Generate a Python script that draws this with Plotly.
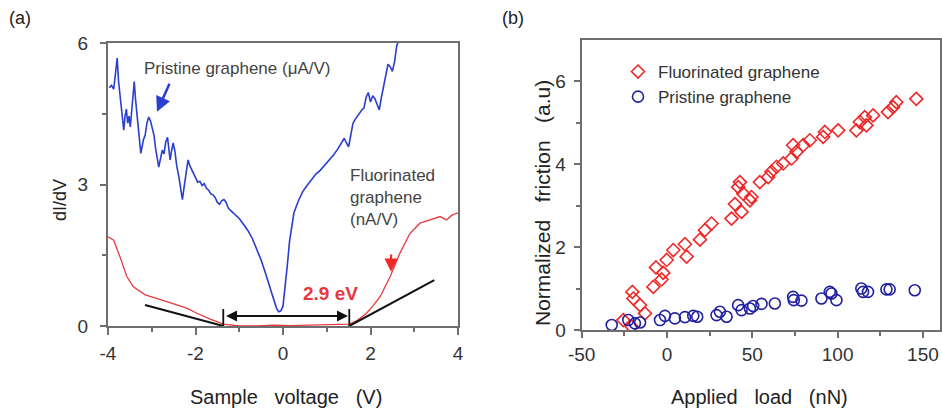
import plotly.graph_objects as go

# ---------------- Panel (a) data ----------------
pristine_v = [-3.97, -3.92, -3.87, -3.82, -3.79, -3.76, -3.73, -3.70, -3.67, -3.64, -3.61, -3.58, -3.55,
              -3.52, -3.49, -3.46, -3.43, -3.40, -3.37, -3.34, -3.31, -3.28, -3.25, -3.22, -3.19, -3.15,
              -3.11, -3.07, -3.03, -2.99, -2.95, -2.91, -2.87, -2.84, -2.80, -2.76, -2.72, -2.68, -2.64,
              -2.61, -2.58, -2.55, -2.51, -2.47, -2.43, -2.38, -2.34, -2.30, -2.26, -2.21, -2.17, -2.13,
              -2.08, -2.04, -2.00, -1.95, -1.90, -1.85, -1.80, -1.75, -1.70, -1.65, -1.60, -1.55, -1.50,
              -1.45, -1.40, -1.35, -1.30, -1.25, -1.20, -1.10, -1.00, -0.90, -0.80, -0.70, -0.60, -0.50,
              -0.40, -0.30, -0.22, -0.15, -0.10, -0.05, 0.00, 0.05, 0.10, 0.15, 0.20, 0.25, 0.35, 0.45,
              0.55, 0.65, 0.75, 0.85, 0.95, 1.05, 1.15, 1.25, 1.35, 1.40, 1.45, 1.50, 1.55, 1.60, 1.65,
              1.70, 1.75, 1.80, 1.85, 1.90, 1.95, 2.00, 2.05, 2.10, 2.15, 2.20, 2.25, 2.30, 2.35, 2.40,
              2.45, 2.50, 2.55, 2.60, 2.65, 2.70]
pristine_didv = [5.05, 5.10, 5.02, 5.40, 5.68, 5.20, 4.90, 4.62, 4.40, 4.15, 4.45, 4.60, 4.30,
                 4.45, 4.22, 4.60, 4.95, 5.18, 4.80, 4.50, 4.10, 3.85, 3.66, 3.80, 3.95, 4.05,
                 4.30, 4.43, 4.35, 4.20, 4.05, 3.75, 3.55, 3.37, 3.55, 3.73, 3.65, 3.90, 4.00,
                 3.75, 3.52, 3.70, 3.88, 3.70, 3.40, 3.16, 2.90, 2.68, 2.95, 3.30, 3.52, 3.40,
                 3.30, 3.22, 3.15, 3.05, 3.07, 2.98, 3.02, 2.92, 2.88, 2.80, 2.78, 2.72, 2.62,
                 2.58, 2.66, 2.68, 2.62, 2.50, 2.45, 2.36, 2.28, 2.15, 2.02, 1.85, 1.62, 1.40,
                 1.12, 0.82, 0.55, 0.38, 0.30, 0.32, 0.42, 0.80, 1.30, 1.80, 2.15, 2.40, 2.65, 2.85,
                 2.98, 3.10, 3.22, 3.30, 3.40, 3.50, 3.62, 3.75, 3.92, 3.98, 3.88, 3.80, 4.05, 4.30, 4.38,
                 4.45, 4.50, 4.58, 4.62, 4.85, 4.95, 4.75, 4.88, 4.82, 4.70, 4.58, 4.85, 5.10, 5.30, 5.55,
                 5.50, 5.40, 5.60, 5.95, 6.05, 6.10]

fluor_v = [-4.00, -3.87, -3.72, -3.57, -3.42, -3.15, -2.80, -2.51, -2.20, -1.97, -1.65, -1.36, -1.00,
           -0.60, -0.20, 0.16, 0.60, 1.00, 1.30, 1.515, 1.70, 1.91, 2.05, 2.22, 2.45, 2.67, 2.90, 3.13,
           3.36, 3.59, 3.74, 3.86, 3.97, 4.00]
fluor_didv = [1.89, 1.82, 1.45, 1.05, 0.83, 0.66, 0.56, 0.48, 0.38, 0.27, 0.14, 0.04, 0.00,
              0.00, 0.02, 0.01, 0.02, 0.03, 0.03, 0.04, 0.12, 0.27, 0.42, 0.62, 1.05, 1.54, 1.96, 2.18,
              2.25, 2.32, 2.25, 2.35, 2.39, 2.40]

tangent_left_v = [-3.154, -1.365]
tangent_left_y = [0.445, 0.0]
tangent_right_v = [1.515, 3.458]
tangent_right_y = [0.0, 0.975]
gap_edges_v = [-1.365, 1.515]
gap_bar_y = [0.0, 0.36]
gap_arrow_y = 0.21

volt_ticks = [-4, -2, 0, 2, 4]
volt_ticktext = ["-4", "-2", "0", "2", "4"]
didv_ticks = [0, 3, 6]

# ---------------- Panel (b) data ----------------
fluor_load = [-25.6, -20.7, -20.3, -19.7, -15.8, -12.9, -8.0, -6.5, -3.2, -2.2, -0.2, 3.7, 10.5, 11.5,
              19.3, 22.2, 26.1, 37.8, 39.8, 41.7, 42.7, 43.7, 44.7, 48.6, 49.5, 54.4, 59.3, 61.2, 64.2,
              68.1, 73.0, 73.9, 75.9, 79.8, 83.7, 91.5, 92.5, 100.3, 111.0, 113.0, 115.9, 116.9, 120.8,
              129.5, 132.5, 134.4, 146.1]
fluor_fric = [0.24, 0.08, 0.92, 0.76, 0.60, 0.40, 1.04, 1.51, 1.22, 1.38, 1.69, 1.93, 2.07, 1.77,
              2.18, 2.41, 2.57, 2.69, 3.04, 3.45, 3.57, 2.85, 3.29, 3.13, 3.21, 3.57, 3.69, 3.82, 3.94,
              4.02, 4.14, 4.46, 4.30, 4.46, 4.58, 4.66, 4.78, 4.82, 4.82, 5.02, 5.14, 4.94, 5.18,
              5.26, 5.38, 5.50, 5.58]
prist_load = [-32.4, -22.7, -18.8, -15.8, -4.1, -1.2, 4.6, 10.5, 15.4, 17.7, 29.0, 31.0, 34.9, 41.7,
              43.7, 48.6, 50.5, 55.4, 63.2, 73.9, 74.3, 78.8, 90.5, 95.4, 96.4, 99.3, 113.9, 114.9,
              117.8, 128.6, 130.5, 145.2]
prist_fric = [0.12, 0.24, 0.16, 0.18, 0.24, 0.34, 0.28, 0.31, 0.34, 0.32, 0.36, 0.44, 0.32, 0.60,
              0.48, 0.52, 0.58, 0.63, 0.64, 0.80, 0.72, 0.71, 0.76, 0.92, 0.88, 0.72, 1.00, 0.92,
              0.92, 0.98, 0.98, 0.96]

load_ticks = [-50, 0, 50, 100, 150]
load_ticktext = ["-50", "0", "50", "100", "150"]
fric_ticks = [0, 2, 4, 6]

FONT = "Liberation Sans, Arial, sans-serif"
AX = "#6e6e6e"
NB = "\u00a0"

fig = go.Figure()

# Panel (a)
fig.add_trace(go.Scatter(x=fluor_v, y=fluor_didv, mode="lines", line=dict(color="#e8383c", width=1.3),
                         showlegend=False, xaxis="x", yaxis="y"))
fig.add_trace(go.Scatter(x=pristine_v, y=pristine_didv, mode="lines", line=dict(color="#2a3ed0", width=1.6),
                         showlegend=False, xaxis="x", yaxis="y"))
fig.add_trace(go.Scatter(x=tangent_left_v, y=tangent_left_y, mode="lines", line=dict(color="#111", width=2),
                         showlegend=False, xaxis="x", yaxis="y"))
fig.add_trace(go.Scatter(x=tangent_right_v, y=tangent_right_y, mode="lines", line=dict(color="#111", width=2),
                         showlegend=False, xaxis="x", yaxis="y"))
for v in gap_edges_v:
    fig.add_trace(go.Scatter(x=[v, v], y=gap_bar_y, mode="lines", line=dict(color="#111", width=1.8),
                             showlegend=False, xaxis="x", yaxis="y"))

# Panel (b)
fig.add_trace(go.Scatter(x=fluor_load, y=fluor_fric, mode="markers", name="Fluorinated graphene",
                         marker=dict(symbol="diamond-open", size=10, color="#f02828", line=dict(width=1.6)),
                         xaxis="x2", yaxis="y2"))
fig.add_trace(go.Scatter(x=prist_load, y=prist_fric, mode="markers", name="Pristine graphene",
                         marker=dict(symbol="circle-open", size=11, color="#2020a0", line=dict(width=1.6)),
                         xaxis="x2", yaxis="y2"))

axis_common = dict(showline=True, mirror=True, linecolor=AX, linewidth=2, showgrid=False, zeroline=False,
                   ticks="outside", tickcolor=AX, tickwidth=1.5, automargin=False,
                   tickfont=dict(family=FONT, size=19, color="#333"))

fig.update_layout(
    width=942, height=409, margin=dict(l=0, r=0, t=0, b=0, autoexpand=False),
    paper_bgcolor="white", plot_bgcolor="white",
    font=dict(family=FONT, color="#222"),
    xaxis=dict(domain=[108/942, 458/942], range=[-4, 4], tickvals=volt_ticks, ticktext=volt_ticktext, ticklen=7,
               ticklabelstandoff=2, anchor="y",
               minor=dict(tickvals=[-3, -1, 1, 3], ticklen=4, ticks="outside", tickcolor=AX), **axis_common),
    yaxis=dict(domain=[83/409, 366/409], range=[0, 6], tickvals=didv_ticks, ticklen=6,
               ticklabelstandoff=8, anchor="x",
               minor=dict(tickvals=[1.5, 4.5], ticklen=4, ticks="outside", tickcolor=AX), **axis_common),
    xaxis2=dict(domain=[581.7/942, 940/942], range=[-50, 160], tickvals=load_ticks, ticktext=load_ticktext,
                ticklen=6, ticklabelstandoff=0, anchor="y2",
                minor=dict(tickvals=[-25, 25, 75, 125], ticklen=4, ticks="outside", tickcolor=AX), **axis_common),
    yaxis2=dict(domain=[79/409, 369/409], range=[0, 7], tickvals=fric_ticks, ticklen=6,
                ticklabelstandoff=4, anchor="x2",
                minor=dict(tickvals=[1, 3, 5], ticklen=4, ticks="outside", tickcolor=AX), **axis_common),
    legend=dict(x=618/942, y=1 - 54/409, xanchor="left", yanchor="top", bgcolor="rgba(0,0,0,0)",
                font=dict(family=FONT, size=17, color="#333"), tracegroupgap=0, itemwidth=30),
)


def label(text, px, py, size, angle=0, color="#222"):
    return dict(text=text, x=px/942, y=1 - py/409, xref="paper", yref="paper", xanchor="center",
                yanchor="middle", textangle=angle, showarrow=False, font=dict(family=FONT, size=size, color=color))


ann = [
    label("(a)", 20, 18, 18),
    label("(b)", 513, 18, 18),
    label("dI/dV", 60, 200, 18, angle=-90),
    label(f"Sample{NB*3}voltage{NB*3}(V)", 286, 397, 20),
    label(f"Normalized{NB*3}friction{NB*3}(a.u)", 542, 203, 21, angle=-90),
    label(f"Applied{NB*3}load{NB*3}(nN)", 759, 397, 20),
]
ann.append(dict(text="Pristine graphene (\u03bcA/V)", x=-1.04, y=5.47, xref="x", yref="y", showarrow=False,
                xanchor="center", yanchor="middle", font=dict(family=FONT, size=17, color="#444")))
ann.append(dict(text="Fluorinated<br>graphene<br>(nA/V)", x=1.48, y=3.43, xref="x", yref="y", showarrow=False,
                xanchor="left", yanchor="top", align="left",
                font=dict(family=FONT, size=17, color="#444")))
ann.append(dict(text="<b>2.9 eV</b>", x=1.08, y=0.69, xref="x", yref="y", showarrow=False,
                xanchor="center", yanchor="middle", font=dict(family=FONT, size=19, color="#e8383c")))
ann.append(dict(x=-2.88, y=4.54, ax=-2.58, ay=5.17, xref="x", yref="y", axref="x", ayref="y", text="",
                showarrow=True, arrowhead=2, arrowsize=1.2, arrowwidth=2.5, arrowcolor="#2a3ed0"))
ann.append(dict(x=2.47, y=1.15, ax=2.47, ay=1.55, xref="x", yref="y", axref="x", ayref="y", text="",
                showarrow=True, arrowhead=2, arrowsize=1.2, arrowwidth=2.2, arrowcolor="#f02828"))
ann.append(dict(x=gap_edges_v[1] - 0.03, y=gap_arrow_y, ax=gap_edges_v[0] + 0.03, ay=gap_arrow_y,
                xref="x", yref="y", axref="x", ayref="y", text="",
                showarrow=True, arrowhead=2, startarrowhead=2, arrowside="end+start", arrowsize=1.1,
                arrowwidth=2, arrowcolor="#111"))
fig.update_layout(annotations=ann)

fig.write_html("out.html")
